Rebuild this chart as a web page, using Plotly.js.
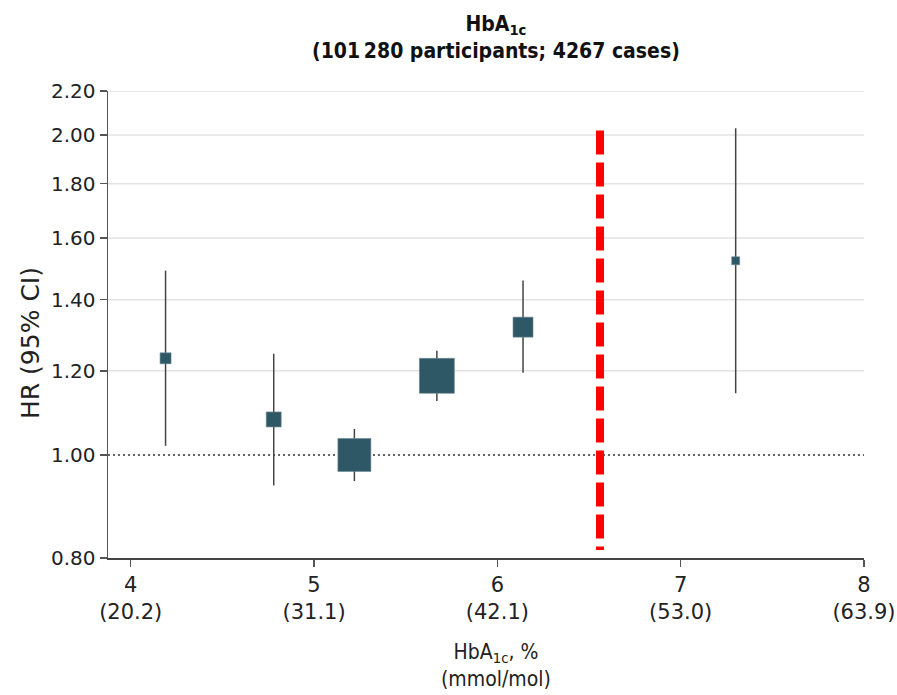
<!DOCTYPE html>
<html>
<head>
<meta charset="utf-8">
<script src="https://cdn.plot.ly/plotly-3.0.1.min.js"></script>
<style>html,body{margin:0;padding:0;background:#fff;}#chart{width:897px;height:695px;}</style>
</head>
<body>
<div id="chart"></div>
<script>
// ---- data ----
const hba1c = [4.19, 4.78, 5.22, 5.67, 6.14, 7.30];      // HbA1c, %
const hr    = [1.233, 1.080, 1.000, 1.187, 1.319, 1.523]; // hazard ratio
const ciLow = [1.020, 0.936, 0.945, 1.124, 1.195, 1.143];
const ciHigh= [1.491, 1.245, 1.058, 1.253, 1.459, 2.030];
const xTickVals = [4, 5, 6, 7, 8];
const xTickMmol = ["20.2", "31.1", "42.1", "53.0", "63.9"];
const yTickVals = [0.80, 1.00, 1.20, 1.40, 1.60, 1.80, 2.00, 2.20];
const threshold = 6.56;            // diabetes threshold line (HbA1c %)
const thresholdSpan = [2.02, 0.814]; // vertical extent of threshold line (HR)
const refHR = 1.0;

// ---- style ----
const markerSizes = [11, 15, 33, 35, 20, 8];
const xRange = [3.876, 8];
const FONT = "DejaVu Sans";
const FONTC = "DejaVu Sans Condensed";

const traces = [];
// light gridlines
yTickVals.filter(v => v > refHR).forEach(v => traces.push({
  type: "scatter", mode: "lines", x: xRange, y: [v, v], cliponaxis: false,
  line: {color: "#e3e3e3", width: 1.5}, hoverinfo: "skip", showlegend: false
}));
// dotted reference line at HR = 1
traces.push({
  type: "scatter", mode: "lines", x: xRange, y: [refHR, refHR],
  line: {color: "#333", width: 1.5, dash: "2px,3px"}, hoverinfo: "skip", showlegend: false
});
// red dashed threshold line
traces.push({
  type: "scatter", mode: "lines", x: [threshold, threshold], y: thresholdSpan,
  line: {color: "#ff0000", width: 8, dash: "24px,8px"}, hoverinfo: "skip", showlegend: false
});
// estimates with 95% CI
traces.push({
  type: "scatter", mode: "markers",
  x: hba1c, y: hr,
  marker: {symbol: "square", size: markerSizes, color: "#2f5866", opacity: 1,
           line: {width: 0.6, color: "#6d8a94"}},
  error_y: {type: "data", symmetric: false,
            array: hr.map((v, i) => ciHigh[i] - v),
            arrayminus: hr.map((v, i) => v - ciLow[i]),
            width: 0, thickness: 1.5, color: "#444"},
  hoverinfo: "x+y", showlegend: false
});

const L = 108, R = 33, T = 91, B = 137, W = 897, H = 695;
const pw = W - L - R, ph = H - T - B;
const px = x => (x - L) / pw;
const py = y => (H - B - y) / ph;

const layout = {
  width: W, height: H,
  margin: {l: L, r: R, t: T, b: B, pad: 0},
  paper_bgcolor: "#fff", plot_bgcolor: "#fff",
  font: {family: FONT, size: 20, color: "#222"},
  showlegend: false,
  xaxis: {
    range: xRange, tickvals: xTickVals,
    ticktext: xTickVals.map((v, i) => v + "<br>(" + xTickMmol[i] + ")"),
    ticks: "outside", ticklen: 7, tickwidth: 1.5, tickcolor: "#555",
    showline: true, linecolor: "#444", linewidth: 1.5,
    showgrid: false, zeroline: false,
    tickfont: {family: FONT, size: 21, color: "#222"}
  },
  yaxis: {
    type: "log", range: [Math.log10(0.8), Math.log10(2.2)],
    tickvals: yTickVals, ticktext: yTickVals.map(v => v.toFixed(2)),
    ticks: "outside", ticklen: 7, tickwidth: 1.5, tickcolor: "#555",
    showline: true, linecolor: "#555", linewidth: 1.5,
    showgrid: false, zeroline: false,
    tickfont: {family: FONT, size: 20, color: "#222"}
  },
  annotations: [
    {text: "HbA<sub>1c</sub><br>(101\u2009280 participants; 4267 cases)",
     xref: "paper", yref: "paper", x: px(496), y: py(10), xanchor: "center", yanchor: "top",
     showarrow: false, font: {family: FONTC, size: 21, color: "#111", weight: "bold"}},
    {text: "HbA<sub>1c</sub>, %<br>(mmol/mol)",
     xref: "paper", yref: "paper", x: px(496), y: py(638), xanchor: "center", yanchor: "top",
     showarrow: false, font: {family: FONTC, size: 21, color: "#222"}},
    {text: "HR (95% CI)", textangle: -90,
     xref: "paper", yref: "paper", x: px(30), y: py(343), xanchor: "center", yanchor: "middle",
     showarrow: false, font: {family: FONT, size: 25, color: "#222"}}
  ]
};

Plotly.newPlot("chart", traces, layout, {displayModeBar: false, staticPlot: true});
</script>
</body>
</html>
